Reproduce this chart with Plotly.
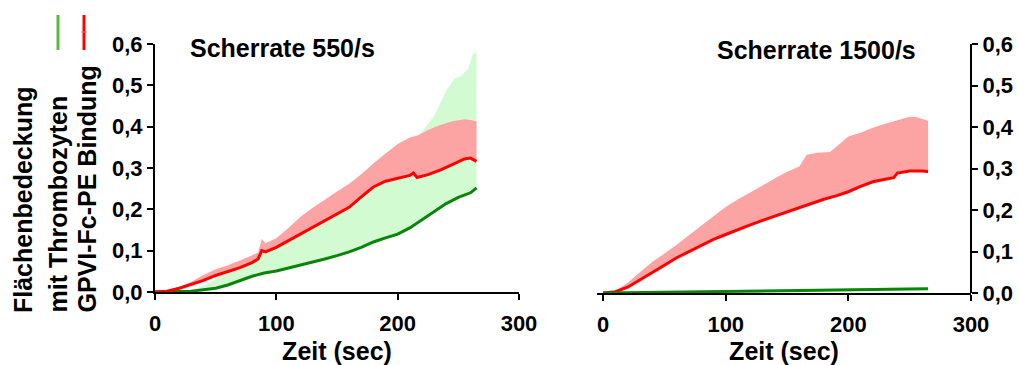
import plotly.graph_objects as go

W, H = 1019, 365

# ---------------- data ----------------
# Left panel: Scherrate 550/s
l_red_t = [0, 10, 20, 30, 40, 50, 60, 70, 80, 85, 88, 91, 100, 110, 120, 130, 140, 150, 160, 170, 180, 190, 200, 210, 213, 216, 225, 235, 245, 255, 260, 265]
l_red_mean = [0, 0.002, 0.009, 0.018, 0.028, 0.040, 0.049, 0.059, 0.071, 0.080, 0.100, 0.097, 0.108, 0.124, 0.141, 0.157, 0.172, 0.188, 0.205, 0.230, 0.254, 0.268, 0.275, 0.282, 0.288, 0.277, 0.284, 0.295, 0.308, 0.322, 0.324, 0.316]
l_red_upper = [0, 0.003, 0.012, 0.025, 0.041, 0.055, 0.065, 0.076, 0.089, 0.095, 0.128, 0.118, 0.130, 0.155, 0.182, 0.204, 0.223, 0.243, 0.262, 0.285, 0.311, 0.335, 0.358, 0.374, 0.376, 0.378, 0.392, 0.404, 0.413, 0.418, 0.416, 0.413]

l_grn_t = [0, 10, 20, 30, 40, 50, 60, 70, 80, 90, 100, 110, 120, 130, 140, 150, 160, 170, 180, 190, 200, 210, 220, 230, 240, 250, 260, 265]
l_grn_mean = [0, 0, 0.001, 0.002, 0.005, 0.009, 0.017, 0.028, 0.038, 0.046, 0.051, 0.058, 0.065, 0.072, 0.080, 0.088, 0.097, 0.108, 0.121, 0.131, 0.140, 0.155, 0.175, 0.196, 0.214, 0.229, 0.240, 0.252]
l_grn_upper_t = [0, 10, 20, 30, 40, 50, 60, 70, 80, 90, 100, 110, 120, 130, 140, 150, 160, 170, 180, 190, 200, 210, 220, 230, 240, 247, 252, 258, 262, 265]
l_grn_upper = [0, 0, 0.002, 0.006, 0.014, 0.032, 0.052, 0.066, 0.082, 0.100, 0.115, 0.132, 0.152, 0.172, 0.192, 0.212, 0.236, 0.260, 0.290, 0.315, 0.340, 0.360, 0.388, 0.426, 0.487, 0.517, 0.522, 0.540, 0.575, 0.582]

# Right panel: Scherrate 1500/s
r_red_t = [0, 10, 20, 30, 40, 50, 60, 70, 80, 90, 100, 110, 120, 130, 140, 150, 160, 170, 180, 190, 200, 210, 220, 230, 237, 240, 250, 260, 265]
r_red_mean = [0, 0.003, 0.014, 0.031, 0.049, 0.067, 0.085, 0.100, 0.115, 0.129, 0.141, 0.153, 0.164, 0.175, 0.185, 0.195, 0.205, 0.216, 0.226, 0.234, 0.244, 0.257, 0.268, 0.274, 0.278, 0.289, 0.294, 0.294, 0.293]
r_red_upper_t = [0, 10, 20, 30, 40, 50, 60, 70, 80, 90, 100, 110, 120, 130, 140, 150, 160, 166, 175, 185, 190, 200, 210, 220, 230, 240, 250, 255, 265]
r_red_upper = [0, 0.005, 0.025, 0.050, 0.075, 0.095, 0.116, 0.139, 0.162, 0.185, 0.207, 0.226, 0.242, 0.259, 0.276, 0.292, 0.305, 0.333, 0.338, 0.340, 0.352, 0.377, 0.386, 0.398, 0.408, 0.416, 0.425, 0.424, 0.415]

r_grn_t = [0, 50, 100, 150, 200, 250, 265]
r_grn_mean = [0, 0.002, 0.004, 0.006, 0.008, 0.010, 0.010]
r_grn_upper = [0, 0.003, 0.006, 0.008, 0.011, 0.013, 0.013]

x_tickvals = [0, 100, 200, 300]
x_ticktext = ["0", "100", "200", "300"]
y_tickvals = [0.0, 0.1, 0.2, 0.3, 0.4, 0.5, 0.6]
y_ticktext = ["0,0", "0,1", "0,2", "0,3", "0,4", "0,5", "0,6"]

titles = ["Scherrate 550/s", "Scherrate 1500/s"]
x_title = "Zeit (sec)"
y_title_lines = ["Flächenbedeckung", "mit Thrombozyten", "GPVI-Fc-PE Bindung"]

# ---------------- styles ----------------
RED = "#ff0000"
RED_BAND = "#fca3a3"
GRN = "#0a840a"
GRN_BAND = "#d2fbd2"
FONT = "Liberation Sans"

def px_x(p):
    return p / W

def px_y(p):
    return 1 - p / H

def b(s):
    return "<b>" + s + "</b>"

fig = go.Figure()

def band(t_up, up, t_lo, lo, color, xa, ya):
    fig.add_trace(go.Scatter(
        x=list(t_up) + list(t_lo)[::-1],
        y=list(up) + list(lo)[::-1],
        fill="toself", fillcolor=color, mode="none",
        line=dict(width=0), xaxis=xa, yaxis=ya, showlegend=False, hoverinfo="skip"))

def line(t, v, color, xa, ya):
    fig.add_trace(go.Scatter(x=t, y=v, mode="lines", line=dict(color=color, width=3),
                             xaxis=xa, yaxis=ya, showlegend=False))

# left
band(l_grn_upper_t, l_grn_upper, l_grn_t, l_grn_mean, GRN_BAND, "x", "y")
band(l_red_t, l_red_upper, l_red_t, l_red_mean, RED_BAND, "x", "y")
line(l_grn_t, l_grn_mean, GRN, "x", "y")
line(l_red_t, l_red_mean, RED, "x", "y")
# right
band(r_red_upper_t, r_red_upper, r_red_t, r_red_mean, RED_BAND, "x2", "y2")
band(r_grn_t, r_grn_upper, r_grn_t, r_grn_mean, GRN_BAND, "x2", "y2")
line(r_red_t, r_red_mean, RED, "x2", "y2")
line(r_grn_t, r_grn_mean, GRN, "x2", "y2")

tickfont = dict(family=FONT, size=22, color="black")
titlefont = dict(family=FONT, size=25, color="black")

common_x = dict(tickvals=x_tickvals, ticktext=[b(s) for s in x_ticktext], ticks="outside", ticklen=6, tickwidth=2,
                tickcolor="black", showline=True, linecolor="black", linewidth=2, showgrid=False,
                zeroline=False, tickfont=tickfont, automargin=False, ticklabelstandoff=5,
                title=dict(text=b(x_title), font=titlefont, standoff=10))
common_y = dict(tickvals=y_tickvals, ticktext=[b(s) for s in y_ticktext], ticks="outside", ticklen=6, tickwidth=2,
                tickcolor="black", showline=True, linecolor="black", linewidth=2, showgrid=False,
                zeroline=False, tickfont=tickfont, range=[0, 0.6], automargin=False)

fig.update_layout(
    template="none",
    width=W, height=H,
    margin=dict(l=0, r=0, t=0, b=0, pad=0),
    paper_bgcolor="white", plot_bgcolor="white",
    xaxis=dict(domain=[px_x(155), px_x(519)], range=[0, 300], anchor="y", **common_x),
    yaxis=dict(domain=[px_y(292), px_y(44)], anchor="x", side="left", **common_y),
    xaxis2=dict(domain=[px_x(597), px_x(971)], range=[-5, 300], anchor="y2", **common_x),
    yaxis2=dict(domain=[px_y(293), px_y(44)], anchor="free", position=px_x(971), side="right", **common_y),
    showlegend=False,
)

ann = []
ann.append(dict(text=b(titles[0]), x=px_x(188), y=px_y(48), xref="paper", yref="paper",
                xanchor="left", yanchor="middle", showarrow=False,
                font=dict(family=FONT, size=25, color="black")))
ann.append(dict(text=b(titles[1]), x=px_x(918), y=px_y(50), xref="paper", yref="paper",
                xanchor="right", yanchor="middle", showarrow=False,
                font=dict(family=FONT, size=25, color="black")))
for xc, txt in zip([23, 57, 86], y_title_lines):
    ann.append(dict(text=b(txt), x=px_x(xc), y=px_y(315), xref="paper", yref="paper",
                    xanchor="center", yanchor="bottom", textangle=-90, showarrow=False,
                    font=dict(family=FONT, size=25, color="black")))
fig.update_layout(annotations=ann)

shapes = [
    dict(type="line", xref="paper", yref="paper", x0=px_x(58), x1=px_x(58), y0=px_y(15), y1=px_y(50),
         line=dict(color="#5cb83c", width=3)),
    dict(type="line", xref="paper", yref="paper", x0=px_x(84), x1=px_x(84), y0=px_y(15), y1=px_y(50),
         line=dict(color="#ff0000", width=3)),
    dict(type="line", xref="paper", yref="paper", x0=px_x(81), x1=px_x(87), y0=px_y(32), y1=px_y(32),
         line=dict(color="#ff6666", width=1)),
]
fig.update_layout(shapes=shapes)

fig.write_html("out.html")
